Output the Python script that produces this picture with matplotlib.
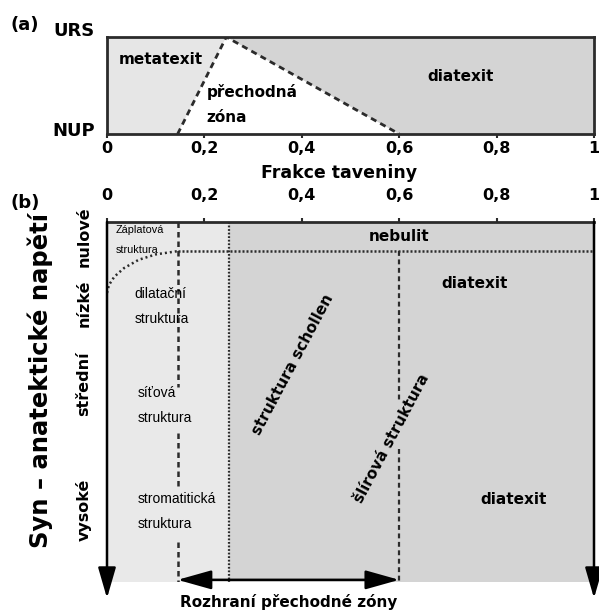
import matplotlib.pyplot as plt
from matplotlib.patches import Polygon, ArrowStyle

# melt-fraction axis shared by both panels
ticks = [0, 0.2, 0.4, 0.6, 0.8, 1]
tick_labels = ['0', '0,2', '0,4', '0,6', '0,8', '1']

# (a) transition zone: boundary at NUP (y=0) and apex at URS (y=1)
meta_nup = 0.145
apex_urs = 0.245
dia_nup = 0.6

# (b) stress axis: 0 = nulové (top), 1 = vysoké (bottom)
dashed_x = 0.145
dotted_x = 0.25
slir_x = 0.6
nebulit_level = 0.081
curve_x = [0, 0.004, 0.015, 0.035, 0.065, 0.1, 0.145]
curve_y = [0.197, 0.175, 0.152, 0.128, 0.105, 0.09, 0.081]
dashed_segments = [(0.0, 0.458), (0.586, 0.744), (0.889, 1.0)]
slir_segments = [(0.081, 0.5), (0.63, 1.0)]
arrow_level = 0.994
arrow_end = 1.045

stress_labels = ['nulové', 'nízké', 'střední', 'vysoké']
stress_pos = [0.04, 0.225, 0.45, 0.8]

LINE = '#2b2b2b'
LIGHT = '#e9e9e9'
DARK = '#d4d4d4'
narrow = 'Liberation Sans'

fig = plt.figure(figsize=(5.99, 6.10), dpi=100)

# ---------------- (a) ----------------
ax_a = fig.add_axes([107/599, 1 - 134/610, 487/599, 97/610])
ax_a.set_xlim(0, 1)
ax_a.set_ylim(0, 1)
ax_a.add_patch(Polygon([(0, 0), (meta_nup, 0), (apex_urs, 1), (0, 1)], closed=True,
                       facecolor='#e6e6e6', edgecolor='none'))
ax_a.add_patch(Polygon([(apex_urs, 1), (dia_nup, 0), (1, 0), (1, 1)], closed=True,
                       facecolor=DARK, edgecolor='none'))
ax_a.plot([meta_nup, apex_urs, dia_nup], [0, 1, 0], ls=(0, (2.2, 1.6)), lw=2, color=LINE)
for s in ax_a.spines.values():
    s.set_linewidth(2)
    s.set_color(LINE)
ax_a.set_xticks(ticks)
ax_a.set_xticklabels(tick_labels, fontsize=11.5, fontweight='bold')
ax_a.tick_params(axis='x', direction='out', length=3, width=1.5, pad=2, color=LINE)
ax_a.set_yticks([])
ax_a.text(0.11, 0.77, 'metatexit', fontsize=11, fontweight='bold', ha='center', va='center')
ax_a.text(0.205, 0.43, 'přechodná', fontsize=11, fontweight='bold', ha='left', va='center')
ax_a.text(0.205, 0.17, 'zóna', fontsize=11, fontweight='bold', ha='left', va='center')
ax_a.text(0.725, 0.59, 'diatexit', fontsize=11, fontweight='bold', ha='center', va='center')

fig.text(10/599, 1 - 25/610, '(a)', fontsize=13, fontweight='bold', ha='left', va='center')
fig.text(74/599, 1 - 31/610, 'URS', fontsize=13, fontweight='bold', ha='center', va='center')
fig.text(74/599, 1 - 131/610, 'NUP', fontsize=13, fontweight='bold', ha='center', va='center')
fig.text(339/599, 1 - 173/610, 'Frakce taveniny', fontsize=12.5, fontweight='bold',
         ha='center', va='center')

# ---------------- (b) ----------------
ax_b = fig.add_axes([107/599, 1 - 582/610, 487/599, 360/610])
ax_b.set_xlim(0, 1)
ax_b.set_ylim(1, 0)
ax_b.axvspan(0, dotted_x, color=LIGHT, lw=0)
ax_b.axvspan(dotted_x, 1, color=DARK, lw=0)
for name, s in ax_b.spines.items():
    if name == 'top':
        s.set_linewidth(2)
        s.set_color(LINE)
    else:
        s.set_visible(False)
ax_b.xaxis.tick_top()
ax_b.set_xticks(ticks)
ax_b.set_xticklabels(tick_labels, fontsize=11.5, fontweight='bold')
ax_b.tick_params(axis='x', direction='out', length=3, width=1.5, pad=11, color=LINE)
ax_b.set_yticks([])

for y0, y1 in dashed_segments:
    ax_b.plot([dashed_x, dashed_x], [y0, y1], ls=(0, (2.2, 1.6)), lw=1.8, color=LINE)
for y0, y1 in slir_segments:
    ax_b.plot([slir_x, slir_x], [y0, y1], ls=(0, (2.2, 1.6)), lw=1.6, color=LINE)
ax_b.plot([dotted_x, dotted_x], [0, 1], ls=(0, (0.8, 0.8)), lw=1.6, color=LINE)
ax_b.plot([dashed_x, 1], [nebulit_level, nebulit_level], ls=(0, (0.8, 0.8)), lw=1.8, color=LINE)
ax_b.plot(curve_x, curve_y, ls=(0, (0.8, 1.2)), lw=1.8, color=LINE)

# axis arrows
head = ArrowStyle('-|>', head_length=1.45, head_width=0.42)
for xa in (0, 1):
    ax_b.annotate('', xy=(xa, arrow_end), xytext=(xa, 0), annotation_clip=False,
                  arrowprops=dict(arrowstyle=head, mutation_scale=13, color='black',
                                  lw=1.8, shrinkA=0, shrinkB=0))
ax_b.annotate('', xy=(slir_x, arrow_level), xytext=(dashed_x, arrow_level), annotation_clip=False,
              arrowprops=dict(arrowstyle=ArrowStyle('<|-|>', head_length=1.6, head_width=0.45),
                              mutation_scale=13, color='black', lw=1.8, shrinkA=0, shrinkB=0))

# texts in (b)
ax_b.text(0.018, 0.022, 'Záplatová', family=narrow, fontsize=7.8, ha='left', va='center')
ax_b.text(0.018, 0.078, 'struktura', family=narrow, fontsize=7.8, ha='left', va='center')
ax_b.text(0.057, 0.2, 'dilatační', family=narrow, fontsize=10, ha='left', va='center')
ax_b.text(0.057, 0.27, 'struktura', family=narrow, fontsize=10, ha='left', va='center')
ax_b.text(0.064, 0.475, 'síťová', family=narrow, fontsize=10, ha='left', va='center')
ax_b.text(0.064, 0.545, 'struktura', family=narrow, fontsize=10, ha='left', va='center')
ax_b.text(0.064, 0.77, 'stromatitická', family=narrow, fontsize=10, ha='left', va='center')
ax_b.text(0.064, 0.84, 'struktura', family=narrow, fontsize=10, ha='left', va='center')

ax_b.text(0.6, 0.04, 'nebulit', fontsize=11, fontweight='bold', ha='center', va='center')
ax_b.text(0.755, 0.17, 'diatexit', fontsize=11, fontweight='bold', ha='center', va='center')
ax_b.text(0.835, 0.772, 'diatexit', fontsize=11, fontweight='bold', ha='center', va='center')
ax_b.text(0.382, 0.397, 'struktura schollen', fontsize=11, fontweight='bold',
          rotation=62, ha='center', va='center', rotation_mode='anchor')
ax_b.text(0.585, 0.6, 'šlírová struktura', fontsize=11, fontweight='bold',
          rotation=62, ha='center', va='center', rotation_mode='anchor')
ax_b.text(0.3725, 1.055, 'Rozhraní přechodné zóny', fontsize=11, fontweight='bold',
          ha='center', va='center', clip_on=False)

for lab, pos in zip(stress_labels, stress_pos):
    ax_b.text(-0.047, pos, lab, fontsize=11.5, fontweight='bold', rotation=90,
              ha='center', va='center', clip_on=False)

fig.text(10/599, 1 - 203/610, '(b)', fontsize=13, fontweight='bold', ha='left', va='center')
fig.text(40/599, 1 - 380/610, 'Syn – anatektické napětí', fontsize=17.5, fontweight='bold',
         rotation=90, ha='center', va='center')

fig.savefig('out.png', dpi=100)
